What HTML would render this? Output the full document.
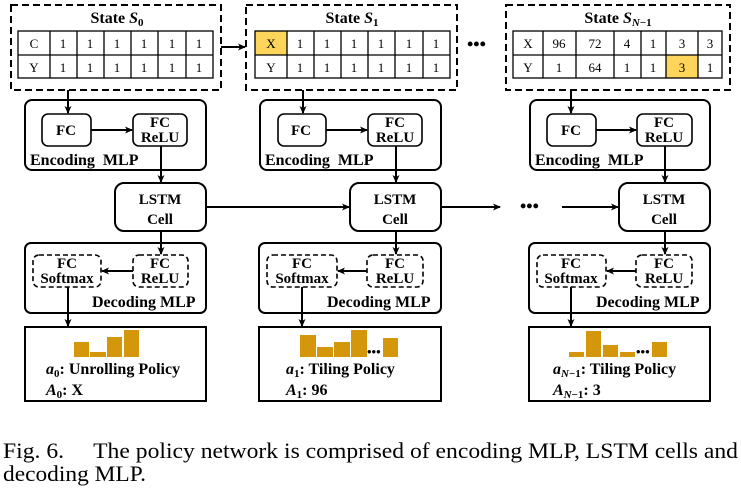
<!DOCTYPE html>
<html><head><meta charset="utf-8"><style>
html,body{margin:0;padding:0;background:#fff;}
svg{display:block;}
svg, svg text{font-family:"Liberation Serif","Times New Roman",Times,serif;}
</style></head><body>
<svg width="741" height="493" viewBox="0 0 741 493" xmlns="http://www.w3.org/2000/svg" font-family="Liberation Serif, Times New Roman, Times, serif">
<defs>
<marker id="ar" markerWidth="8" markerHeight="8" refX="7" refY="4" orient="auto" markerUnits="userSpaceOnUse">
<path d="M0,0.5 L8,4 L0,7.5 L2,4 z" fill="#000"/></marker>
</defs>
<g fill="none" stroke="#000">
<rect x="11" y="5" width="210" height="85" stroke-width="2" stroke-dasharray="7,4"/>
<rect x="246" y="5" width="211" height="85" stroke-width="2" stroke-dasharray="7,4"/>
<rect x="506" y="5" width="224" height="85" stroke-width="2" stroke-dasharray="7,4"/>
</g>
<rect x="255" y="31" width="32" height="24" fill="#fcd55a"/>
<rect x="666" y="55" width="32" height="23" fill="#fcd55a"/>
<g fill="none" stroke="#000" stroke-width="1.3">
<rect x="18" y="31" width="195" height="47"/><line x1="18" y1="55" x2="213" y2="55"/>
<path d="M50,31V78M77,31V78M104,31V78M131,31V78M158,31V78M186,31V78"/>
<rect x="255" y="31" width="195" height="47"/><line x1="255" y1="55" x2="450" y2="55"/>
<path d="M287,31V78M314,31V78M341,31V78M368,31V78M395,31V78M423,31V78"/>
<rect x="513" y="31" width="209" height="47"/><line x1="513" y1="55" x2="722" y2="55"/>
<path d="M543,31V78M576,31V78M614,31V78M641,31V78M666,31V78M698,31V78"/>
</g>
<g font-size="13" text-anchor="middle">
<text x="34" y="48">C</text><text x="34" y="72">Y</text>
<text x="63" y="48">1</text><text x="90" y="48">1</text><text x="117" y="48">1</text><text x="144" y="48">1</text><text x="172" y="48">1</text><text x="199" y="48">1</text>
<text x="63" y="72">1</text><text x="90" y="72">1</text><text x="117" y="72">1</text><text x="144" y="72">1</text><text x="172" y="72">1</text><text x="199" y="72">1</text>
<text x="271" y="48">X</text><text x="271" y="72">Y</text>
<text x="300" y="48">1</text><text x="327" y="48">1</text><text x="354" y="48">1</text><text x="381" y="48">1</text><text x="409" y="48">1</text><text x="436" y="48">1</text>
<text x="300" y="72">1</text><text x="327" y="72">1</text><text x="354" y="72">1</text><text x="381" y="72">1</text><text x="409" y="72">1</text><text x="436" y="72">1</text>
<text x="528" y="48">X</text><text x="559" y="48">96</text><text x="595" y="48">72</text><text x="627" y="48">4</text><text x="653" y="48">1</text><text x="682" y="48">3</text><text x="710" y="48">3</text>
<text x="528" y="72">Y</text><text x="559" y="72">1</text><text x="595" y="72">64</text><text x="627" y="72">1</text><text x="653" y="72">1</text><text x="682" y="72">3</text><text x="710" y="72">1</text>
</g>
<g font-size="16" text-anchor="middle" font-weight="bold">
<text x="117" y="23">State <tspan font-style="italic">S</tspan><tspan font-size="11" dy="3">0</tspan></text>
<text x="352" y="23">State <tspan font-style="italic">S</tspan><tspan font-size="11" dy="3">1</tspan></text>
<text x="618" y="23">State <tspan font-style="italic">S</tspan><tspan font-size="11" dy="3" font-style="italic">N</tspan><tspan font-size="11">−1</tspan></text>
</g>
<text x="467" y="50" font-size="18" font-weight="bold">•••</text>
<g fill="none" stroke="#000" stroke-width="2">
<rect x="25" y="100" width="181" height="70" rx="7"/>
<rect x="42" y="114" width="49" height="32" rx="6" stroke-width="1.6"/>
<rect x="133" y="114" width="54" height="32" rx="6" stroke-width="1.6"/>
<rect x="115" y="183" width="91" height="48" rx="9"/>
<rect x="25" y="243" width="181" height="70" rx="6"/>
<rect x="33" y="255" width="68" height="32" rx="6" stroke-width="1.6" stroke-dasharray="5,3"/>
<rect x="133" y="255" width="55" height="32" rx="6" stroke-width="1.6" stroke-dasharray="5,3"/>
<rect x="25" y="327" width="181" height="74"/>
<rect x="260" y="100" width="181" height="70" rx="7"/>
<rect x="278" y="114" width="48" height="32" rx="6" stroke-width="1.6"/>
<rect x="368" y="114" width="54" height="32" rx="6" stroke-width="1.6"/>
<rect x="350" y="183" width="91" height="48" rx="9"/>
<rect x="259" y="243" width="182" height="70" rx="6"/>
<rect x="267" y="255" width="70" height="32" rx="6" stroke-width="1.6" stroke-dasharray="5,3"/>
<rect x="367" y="255" width="56" height="32" rx="6" stroke-width="1.6" stroke-dasharray="5,3"/>
<rect x="259" y="327" width="182" height="74"/>
<rect x="530" y="100" width="180" height="70" rx="7"/>
<rect x="547" y="114" width="49" height="32" rx="6" stroke-width="1.6"/>
<rect x="637" y="114" width="55" height="32" rx="6" stroke-width="1.6"/>
<rect x="619" y="183" width="91" height="48" rx="9"/>
<rect x="529" y="243" width="181" height="70" rx="6"/>
<rect x="537" y="255" width="69" height="32" rx="6" stroke-width="1.6" stroke-dasharray="5,3"/>
<rect x="636" y="255" width="56" height="32" rx="6" stroke-width="1.6" stroke-dasharray="5,3"/>
<rect x="529" y="327" width="181" height="74"/>
</g>
<g stroke="#000" stroke-width="2" fill="none" marker-end="url(#ar)">
<line x1="221" y1="47" x2="245" y2="47"/>
<line x1="68" y1="90" x2="68" y2="113"/><line x1="91" y1="130" x2="132" y2="130"/><line x1="161" y1="146" x2="161" y2="182"/>
<line x1="161" y1="231" x2="161" y2="254"/><line x1="133" y1="271" x2="102" y2="271"/><line x1="68" y1="287" x2="68" y2="326"/>
<line x1="303" y1="90" x2="303" y2="113"/><line x1="326" y1="130" x2="367" y2="130"/><line x1="396" y1="146" x2="396" y2="182"/>
<line x1="396" y1="231" x2="396" y2="254"/><line x1="367" y1="271" x2="338" y2="271"/><line x1="302" y1="287" x2="302" y2="326"/>
<line x1="571" y1="90" x2="571" y2="113"/><line x1="596" y1="130" x2="636" y2="130"/><line x1="665" y1="146" x2="665" y2="182"/>
<line x1="665" y1="231" x2="665" y2="254"/><line x1="636" y1="271" x2="607" y2="271"/><line x1="571" y1="287" x2="571" y2="326"/>
<line x1="206" y1="207" x2="349" y2="207"/><line x1="441" y1="207" x2="500" y2="207"/><line x1="562" y1="207" x2="618" y2="207"/>
</g>
<text x="520" y="212" font-size="18" font-weight="bold">•••</text>
<g font-weight="bold" font-size="15" text-anchor="middle">
<text x="66" y="135">FC</text><text x="160" y="127">FC</text><text x="160" y="142">ReLU</text>
<text x="301" y="135">FC</text><text x="395" y="127">FC</text><text x="395" y="142">ReLU</text>
<text x="571" y="135">FC</text><text x="664" y="127">FC</text><text x="664" y="142">ReLU</text>
<text x="160" y="204">LSTM</text><text x="160" y="224">Cell</text>
<text x="395" y="204">LSTM</text><text x="395" y="224">Cell</text>
<text x="664" y="204">LSTM</text><text x="664" y="224">Cell</text>
<text x="67" y="268">FC</text><text x="67" y="283">Softmax</text><text x="160" y="268">FC</text><text x="160" y="283">ReLU</text>
<text x="302" y="268">FC</text><text x="302" y="283">Softmax</text><text x="395" y="268">FC</text><text x="395" y="283">ReLU</text>
<text x="571" y="268">FC</text><text x="571" y="283">Softmax</text><text x="664" y="268">FC</text><text x="664" y="283">ReLU</text>
</g>
<g font-weight="bold" font-size="16">
<text x="30" y="165">Encoding&#160; MLP</text>
<text x="265" y="165">Encoding&#160; MLP</text>
<text x="535" y="165">Encoding&#160; MLP</text>
<text x="92" y="307">Decoding MLP</text>
<text x="327" y="307">Decoding MLP</text>
<text x="596" y="307">Decoding MLP</text>
<text x="46" y="374"><tspan font-style="italic">a</tspan><tspan font-size="11" dy="3">0</tspan><tspan dy="-3">: Unrolling Policy</tspan></text>
<text x="46" y="395"><tspan font-style="italic">A</tspan><tspan font-size="11" dy="3">0</tspan><tspan dy="-3">: X</tspan></text>
<text x="286" y="374"><tspan font-style="italic">a</tspan><tspan font-size="11" dy="3">1</tspan><tspan dy="-3">: Tiling Policy</tspan></text>
<text x="286" y="395"><tspan font-style="italic">A</tspan><tspan font-size="11" dy="3">1</tspan><tspan dy="-3">: 96</tspan></text>
<text x="553" y="374"><tspan font-style="italic">a</tspan><tspan font-size="11" dy="3" font-style="italic">N</tspan><tspan font-size="11">−1</tspan><tspan dy="-3">: Tiling Policy</tspan></text>
<text x="553" y="395"><tspan font-style="italic">A</tspan><tspan font-size="11" dy="3" font-style="italic">N</tspan><tspan font-size="11">−1</tspan><tspan dy="-3">: 3</tspan></text>
</g>
<g fill="#d4960a">
<rect x="74" y="342" width="15" height="15"/><rect x="90" y="352" width="16" height="5"/><rect x="107" y="337" width="15" height="20"/><rect x="124" y="330" width="15" height="27"/>
<rect x="300" y="335" width="16" height="22"/><rect x="317" y="347" width="16" height="10"/><rect x="334" y="342" width="16" height="15"/><rect x="351" y="330" width="16" height="27"/><rect x="383" y="338" width="15" height="19"/>
<rect x="569" y="352" width="15" height="5"/><rect x="586" y="331" width="15" height="26"/><rect x="603" y="345" width="15" height="12"/><rect x="620" y="352" width="15" height="5"/><rect x="652" y="342" width="15" height="15"/>
</g>
<text x="367" y="356" font-size="13" font-weight="bold">•••</text>
<text x="636" y="356" font-size="13" font-weight="bold">•••</text>
<text x="3" y="458" font-size="22" textLength="735" lengthAdjust="spacingAndGlyphs">Fig. 6.&#160;&#160;&#160;&#160; The policy network is comprised of encoding MLP, LSTM cells and</text>
<text x="3" y="481" font-size="22" textLength="143" lengthAdjust="spacingAndGlyphs">decoding MLP.</text>
</svg>
</body></html>
